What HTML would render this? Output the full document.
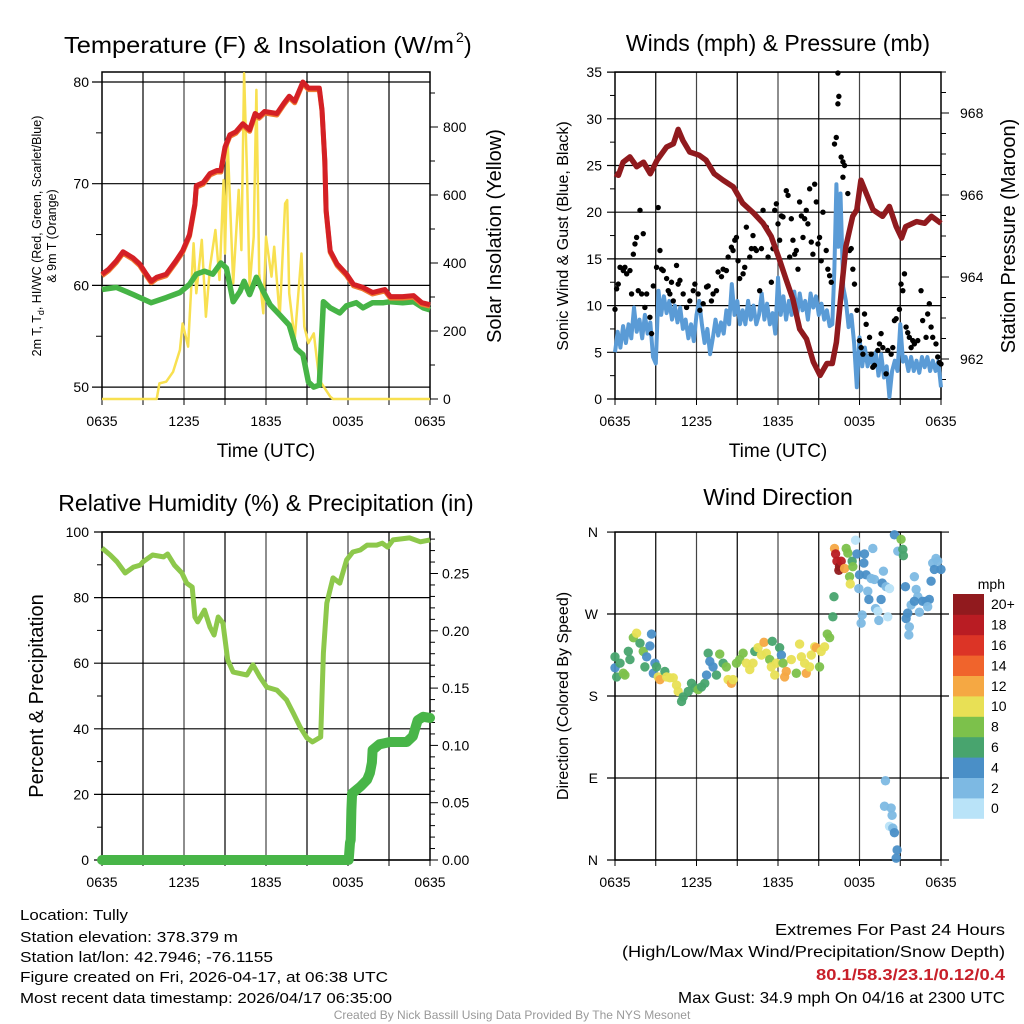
<!DOCTYPE html>
<html><head><meta charset="utf-8"><style>
html,body{margin:0;padding:0;background:#fff;}
svg{display:block;font-family:"Liberation Sans",sans-serif;}
</style></head><body>
<svg id="chart" width="1024" height="1024" viewBox="0 0 1024 1024" xmlns="http://www.w3.org/2000/svg">
<rect x="0" y="0" width="1024" height="1024" fill="#fff"/>
<g id="layer"></g>
<!-- titles -->
<text x="64" y="53" font-size="23" textLength="390" lengthAdjust="spacingAndGlyphs">Temperature (F) &amp; Insolation (W/m</text>
<text x="456" y="42" font-size="14">2</text>
<text x="464" y="53" font-size="23">)</text>
<text x="778" y="51" font-size="23" text-anchor="middle">Winds (mph) &amp; Pressure (mb)</text>
<text x="266" y="511" font-size="23" text-anchor="middle">Relative Humidity (%) &amp; Precipitation (in)</text>
<text x="778" y="505" font-size="23" text-anchor="middle">Wind Direction</text>
<!-- axis titles -->
<text x="266" y="457" font-size="19" text-anchor="middle">Time (UTC)</text>
<text x="778" y="457" font-size="19" text-anchor="middle">Time (UTC)</text>
<text transform="translate(41,236) rotate(-90)" font-size="12.5" text-anchor="middle">2m T, T<tspan font-size="9" dy="3">d</tspan><tspan dy="-3">, HI/WC (Red, Green, Scarlet/Blue)</tspan></text>
<text transform="translate(56,236) rotate(-90)" font-size="12.5" text-anchor="middle">&amp; 9m T (Orange)</text>
<text transform="translate(501,236) rotate(-90)" font-size="20" text-anchor="middle">Solar Insolation (Yellow)</text>
<text transform="translate(568,236) rotate(-90)" font-size="16" text-anchor="middle">Sonic Wind &amp; Gust (Blue, Black)</text>
<text transform="translate(1015,236) rotate(-90)" font-size="20" text-anchor="middle">Station Pressure (Maroon)</text>
<text transform="translate(43,696) rotate(-90)" font-size="20" text-anchor="middle">Percent &amp; Precipitation</text>
<text transform="translate(568,696) rotate(-90)" font-size="16" text-anchor="middle">Direction (Colored By Speed)</text>
<text x="1005" y="589" font-size="14" text-anchor="end">mph</text>
<!-- footer -->
<g font-size="15">
<text x="20" y="920" textLength="108" lengthAdjust="spacingAndGlyphs">Location: Tully</text>
<text x="20" y="942" textLength="218" lengthAdjust="spacingAndGlyphs">Station elevation: 378.379 m</text>
<text x="20" y="962" textLength="253" lengthAdjust="spacingAndGlyphs">Station lat/lon: 42.7946; -76.1155</text>
<text x="20" y="982" textLength="368" lengthAdjust="spacingAndGlyphs">Figure created on Fri, 2026-04-17, at 06:38 UTC</text>
<text x="20" y="1003" textLength="372" lengthAdjust="spacingAndGlyphs">Most recent data timestamp: 2026/04/17 06:35:00</text>
</g>
<g font-size="16">
<text x="775" y="935" textLength="230" lengthAdjust="spacingAndGlyphs">Extremes For Past 24 Hours</text>
<text x="622" y="957" textLength="383" lengthAdjust="spacingAndGlyphs">(High/Low/Max Wind/Precipitation/Snow Depth)</text>
<text x="816" y="980" textLength="189" lengthAdjust="spacingAndGlyphs" fill="#c8202a" font-weight="bold">80.1/58.3/23.1/0.12/0.4</text>
<text x="678" y="1003" textLength="327" lengthAdjust="spacingAndGlyphs">Max Gust: 34.9 mph On 04/16 at 2300 UTC</text>
</g>
<text x="512" y="1019" font-size="12" fill="#999" text-anchor="middle">Created By Nick Bassill Using Data Provided By The NYS Mesonet</text>
</svg>
<script>
// ---------- DATA ----------
const xTickLabels = ["0635","1235","1835","0035","0635"];
// Panel 1
const tempT = [0,0.5,1.05,1.54,2.27,2.76,3.25,3.61,4.0,4.7,5.4,5.9,6.4,6.8,6.9,7.4,7.9,8.4,8.7,9.0,9.35,9.8,10.3,10.8,11.2,11.5,11.9,12.8,13.3,13.7,14.1,14.7,15.1,15.9,16.1,16.3,16.4,16.7,17.2,17.9,18.4,19.1,19.8,20.7,21.1,22.0,22.8,23.4,24];
const tempV = [61.1,61.6,62.4,63.3,62.7,62.1,61.1,60.4,60.8,61.1,62.4,63.4,65.0,68.0,69.8,70.1,71.0,71.3,71.3,73.6,74.8,75.1,75.9,75.3,76.9,76.6,77.1,76.9,77.9,78.6,78.1,80.0,79.4,79.4,77.3,72.3,67.4,63.4,62.1,61.1,60.1,59.8,59.3,59.6,58.9,58.9,59.0,58.3,58.1];
const dewT = [0,1.05,2.3,3.6,4.7,5.7,6.4,6.9,7.5,8.1,8.7,9.1,9.6,10.1,10.4,10.8,11.3,11.8,12.3,13.0,13.7,14.2,14.7,15.1,15.5,15.9,16.2,16.7,17.4,17.9,18.6,19.1,19.8,20.6,21.1,22.0,22.8,23.5,24];
const dewV = [59.6,59.8,59.1,58.3,58.8,59.3,60.1,61.1,61.4,61.1,62.2,61.7,58.4,59.4,60.4,59.1,60.8,59.4,58.1,57.1,56.1,53.8,53.2,50.5,50.0,50.2,58.4,57.8,57.3,58.0,58.3,57.8,58.3,58.3,58.4,58.3,58.4,57.8,57.6];
const solarT = [0,4.0,4.2,4.7,5.2,5.7,5.9,6.3,6.7,6.9,7.3,7.6,7.9,8.3,8.6,8.9,9.0,9.2,9.6,10.0,10.2,10.4,10.6,10.8,11.1,11.3,11.5,11.8,12.0,12.4,12.6,13.0,13.4,13.55,13.7,14.1,14.6,14.8,15.1,15.5,15.9,16.7,16.9,24];
const solarV = [0,0,46,51,80,144,222,154,458,311,468,242,389,497,350,644,428,752,340,615,438,958,674,330,477,909,370,252,477,360,448,242,575,585,311,174,428,213,164,193,56,7,0,0];
const tempTicks = [50,60,70,80];
const solarTicks = [0,200,400,600,800];
// Panel 2
const pressT = [0,0.25,0.6,1.1,1.6,2.1,2.6,3.1,3.8,4.3,4.65,5.0,5.5,6.2,6.7,7.3,7.96,8.7,9.4,10.2,10.9,11.5,12.1,12.6,13.1,13.6,14.1,14.6,15.1,15.6,16.0,16.3,16.65,17.0,17.5,17.8,18.1,18.5,19.0,19.7,20.2,20.7,21.1,21.4,22.2,22.8,23.3,24];
const pressV = [966.52,966.48,966.8,966.93,966.69,966.8,966.52,966.85,967.17,967.25,967.6,967.33,967.05,966.97,966.85,966.52,966.36,966.2,965.8,965.56,965.31,964.99,964.43,963.94,963.46,962.73,962.49,961.93,961.6,961.89,961.89,962.41,963.62,964.75,965.48,965.64,966.36,966.04,965.64,965.48,965.72,965.23,964.95,965.23,965.35,965.31,965.48,965.31];
const windT = [0,0.2,0.4,0.6,0.8,1.0,1.2,1.4,1.6,1.8,2.0,2.2,2.4,2.6,2.8,3.0,3.2,3.4,3.6,3.8,4.0,4.2,4.4,4.6,4.8,5.0,5.2,5.4,5.6,5.8,6.0,6.2,6.4,6.6,6.8,7.0,7.2,7.4,7.6,7.8,8.0,8.2,8.4,8.6,8.8,9.0,9.2,9.4,9.6,9.8,10.0,10.2,10.4,10.6,10.8,11.0,11.2,11.4,11.6,11.8,12.0,12.2,12.4,12.6,12.8,13.0,13.2,13.4,13.6,13.8,14.0,14.2,14.4,14.6,14.8,15.0,15.2,15.4,15.6,15.8,16.0,16.15,16.3,16.45,16.6,16.8,17.0,17.2,17.4,17.6,17.8,18.0,18.2,18.4,18.6,18.8,19.0,19.2,19.4,19.6,19.8,20.0,20.2,20.4,20.6,20.8,21.0,21.2,21.4,21.6,21.8,22.0,22.2,22.4,22.6,22.8,23.0,23.2,23.4,23.6,23.8,24];
const windV = [5.0,7.2,5.5,7.8,6.0,8.0,6.5,9.8,7.2,8.5,6.5,9.0,7.0,8.2,4.5,3.8,11.6,9.0,11.0,9.2,10.5,8.5,10.0,8.2,9.8,7.5,8.5,6.5,8.0,6.2,9.0,10.5,8.0,6.0,7.5,4.8,6.5,8.5,6.8,8.2,7.0,9.5,8.0,12.3,9.0,10.5,8.0,9.5,8.0,10.5,8.5,10.0,8.0,9.0,11.3,8.5,10.2,8.0,9.2,7.0,13.0,9.0,11.0,8.5,10.5,9.0,11.5,8.8,11.3,9.5,10.5,8.5,11.3,9.8,11.0,9.0,10.2,8.5,9.5,7.8,8.0,14.0,23.0,16.3,22.0,12.0,10.5,7.7,9.0,6.0,1.25,6.6,3.5,5.5,3.5,4.8,3.4,5.0,2.5,4.8,2.3,3.5,0.2,3.0,4.1,3.0,8.0,4.0,4.5,3.0,4.5,3.0,4.1,2.8,4.5,3.4,4.5,3.0,4.1,3.0,4.0,1.25];
const gustT = [0,0.12,0.24,0.37,0.61,0.73,0.86,1.1,1.22,1.35,1.47,1.59,1.71,1.84,1.96,2.08,2.2,2.33,2.57,2.69,2.82,3.06,3.18,3.31,3.43,3.55,3.8,3.92,4.04,4.16,4.29,4.53,4.65,4.78,5.02,5.27,5.51,5.76,5.88,6.12,6.25,6.49,6.74,6.86,7.1,7.22,7.47,7.59,7.84,7.96,8.2,8.33,8.57,8.69,8.82,8.94,9.06,9.18,9.43,9.55,9.67,9.92,10.04,10.16,10.29,10.41,10.65,10.78,10.9,11.14,11.27,11.51,11.63,11.76,11.88,12.0,12.12,12.25,12.37,12.61,12.74,12.86,12.98,13.1,13.23,13.35,13.47,13.59,13.72,13.84,13.96,14.08,14.2,14.33,14.45,14.57,14.7,14.82,14.94,15.06,15.18,15.31,15.55,15.67,15.8,15.92,16.16,16.29,16.41,16.48,16.41,16.65,16.78,16.9,16.78,17.14,17.27,17.39,17.51,17.63,17.81,18.0,18.12,18.25,18.37,18.49,18.74,18.86,18.98,19.1,19.35,19.47,19.59,19.72,19.96,20.08,20.33,20.45,20.57,20.7,20.94,21.06,21.19,21.31,21.43,21.55,21.67,21.8,21.92,22.04,22.29,22.53,22.65,22.9,23.02,23.14,23.27,23.39,23.63,23.76,23.88,24];
const gustV = [9.6,11.8,12.3,14.1,13.75,14.1,13.4,13.75,11.25,15.5,16.6,17.3,11.6,20.2,11.25,17.7,9.8,11.25,8.75,7.0,12.1,14.1,20.5,15.9,13.9,13.75,12.9,11.6,11.25,12.5,10.5,14.3,12.3,12.7,11.25,9.8,10.5,11.6,12.3,11.25,9.5,10.2,12.0,12.1,10.5,11.25,11.6,13.6,13.1,13.9,13.75,15.2,16.25,15.9,17.0,17.3,14.8,12.9,13.4,14.1,18.4,15.2,16.1,17.5,16.1,15.9,11.6,16.1,20.2,18.4,15.2,12.5,16.1,20.2,20.9,18.75,17.0,19.6,19.5,22.3,21.8,15.2,19.3,17.0,15.5,15.9,13.9,21.1,19.6,17.3,19.3,20.2,18.75,22.5,16.8,15.5,23.0,21.1,16.6,17.3,14.8,20.0,15.9,13.9,13.2,12.5,27.3,28.0,31.6,32.4,34.9,25.9,25.4,25.0,23.75,22.0,15.9,16.1,13.9,12.3,9.5,6.25,5.5,4.8,9.1,8.0,6.6,4.8,3.4,3.6,5.2,5.9,7.0,5.5,2.7,5.2,4.8,5.5,8.4,8.6,9.6,12.3,11.6,13.4,7.7,7.1,6.6,5.5,6.25,5.9,6.25,11.6,8.4,6.6,9.1,10.2,7.7,6.6,5.9,4.5,3.9,3.75];
const windTicks = [0,5,10,15,20,25,30,35];
const pressTicks = [962,964,966,968];
// Panel 3
const rhT = [0,0.6,1.1,1.7,2.3,2.8,3.0,3.7,4.5,4.8,5.3,5.85,6.2,6.6,6.8,7.0,7.5,7.9,8.2,8.5,8.85,9.2,9.6,10.6,11.05,11.55,12.05,12.8,13.5,14.0,14.5,15.0,15.4,16.0,16.2,16.45,16.9,17.4,17.9,18.35,18.9,19.4,20.1,20.5,20.9,21.3,22.5,23.3,24];
const rhV = [95.1,93.0,90.9,87.5,89.3,89.9,90.9,93.0,92.4,93.3,89.9,87.5,84.4,83.2,74.1,72.6,76.2,71.0,68.6,74.1,72.3,61.0,57.3,56.4,59.5,55.8,52.7,51.8,48.8,44.8,40.5,37.2,36.0,37.5,63.1,78.3,86.0,84.4,91.5,93.9,94.5,96.0,96.0,96.6,95.4,97.6,98.2,97.0,97.6];
const precipT = [0,18.05,18.15,18.2,18.25,18.3,18.9,19.4,19.6,19.75,19.8,20.3,21.07,22.3,22.75,23.1,23.5,24];
const precipV = [0,0,0.015,0.0175,0.044,0.058,0.064,0.07,0.076,0.085,0.096,0.101,0.103,0.103,0.108,0.122,0.125,0.124];
const rhTicks = [0,20,40,60,80,100];
const precipTicks = ["0.00","0.05","0.10","0.15","0.20","0.25"];
// Panel 4
const dirT = [0,0,0.12,0.37,0.61,0.73,0.98,1.1,1.35,1.59,1.84,2.08,2.33,2.57,2.69,2.2,2.82,2.94,3.06,3.18,3.31,3.67,3.8,4.04,4.29,4.53,4.65,4.9,5.02,5.39,5.63,5.88,6.12,6.37,6.61,6.74,6.86,6.98,7.22,7.47,7.71,7.96,8.2,8.33,8.57,8.69,8.94,9.18,9.43,9.67,9.92,10.16,10.29,10.53,10.78,10.97,11.14,11.39,11.51,11.58,11.76,11.88,12.12,12.25,12.37,12.49,12.61,12.98,13.35,13.59,13.72,13.96,14.08,14.33,14.45,14.7,14.82,15.06,15.18,15.43,15.63,15.8,16.04,16.12,16.16,16.24,16.34,16.48,16.53,16.65,16.9,17.02,17.14,17.27,17.32,17.46,17.51,17.71,17.81,17.95,18.0,18.2,18.12,18.37,18.32,18.49,18.61,18.69,18.86,18.98,19.1,19.18,19.35,19.42,19.59,19.67,19.76,19.96,20.08,20.21,20.57,20.82,21.06,21.19,21.23,21.38,21.43,21.55,21.67,21.63,21.8,22.04,22.17,22.29,22.04,22.41,22.65,22.9,23.14,23.02,23.27,23.39,23.51,23.63,24,23.76,19.91,19.84,20.33,20.4,20.21,20.45,20.57,20.77,20.7];
const dirV = [223,211,201,216,205,203,229,220,244,249,238,229,223,235,248,212,205,216,212,201,198,207,201,200,200,192,185,174,179,185,194,189,187,190,194,203,227,218,212,203,226,216,212,198,194,198,216,220,227,216,209,216,229,233,225,239,227,220,212,240,203,216,233,225,216,201,207,220,205,237,223,216,205,212,225,234,233,212,229,234,248,244,267,289,342,336,328,318,322,328,320,342,337,311,303,328,322,351,336,298,313,269,260,336,326,313,295,286,309,342,308,276,273,263,286,304,317,300,267,298,357,339,352,341,334,300,265,271,256,247,280,311,297,289,284,272,284,284,286,278,306,326,319,331,319,328,87,59,57,49,37,35,30,11,2];
const dirSpd = [6,4,6,6,8,8,6,6,8,10,6,8,4,4,4,6,4,4,6,10,12,6,10,10,10,10,10,6,6,6,6,6,8,6,6,4,6,4,4,6,8,6,8,10,12,10,8,8,8,10,10,10,6,10,10,12,10,8,10,6,10,10,6,4,8,12,12,10,8,10,10,10,12,10,10,10,12,8,10,10,8,8,6,6,12,17,17,20,20,17,12,8,8,8,10,6,8,0,4,2,4,2,2,4,4,4,2,4,2,2,2,2,0,2,4,4,2,2,0,0,4,2,8,6,6,4,4,4,2,2,2,2,2,2,4,2,4,4,4,2,4,2,4,2,4,2,2,2,2,2,0,2,4,4,4];
const dirLabels = ["N","E","S","W","N"];
const cbLabels = ["0","2","4","6","8","10","12","14","16","18","20+"];
const cbColors = ["#b9e3f8","#7db9e3","#4a8fc7","#48a46e","#7cc14b","#e8e055","#f5a843","#f0642c","#dc3426","#b91c23","#911a1e"];

// ---------- HELPERS ----------
const NS = "http://www.w3.org/2000/svg";
const layer = document.getElementById('layer');
function mk(tag, attrs, name, parent){
  const el = document.createElementNS(NS, tag);
  for (const k in attrs) el.setAttribute(k, attrs[k]);
  
  
  (parent || layer).appendChild(el);
  return el;
}
function txt(x, y, s, anchor, size, name, extra){
  const el = mk('text', Object.assign({x:x, y:y, 'font-size':size, 'text-anchor':anchor}, extra||{}), name);
  el.textContent = s;
  return el;
}
function pathD(ts, vs, xf, yf){
  let d = '';
  for (let i=0;i<ts.length;i++) d += (i?'L':'M') + xf(ts[i]).toFixed(1) + ',' + yf(vs[i]).toFixed(1);
  return d;
}
function speedColor(v){ let i = Math.floor((v+1)/2); if(i>10) i=10; if(i<0) i=0; return cbColors[i]; }

const P1 = {x0:102, x1:430, y0:72, y1:399};
const P2 = {x0:615, x1:941, y0:72, y1:399};
const P3 = {x0:102, x1:430, y0:532, y1:860};
const P4 = {x0:615, x1:941, y0:532, y1:860};
const xs = P => t => P.x0 + t/24*(P.x1-P.x0);
const x1f = xs(P1), x2f = xs(P2), x3f = xs(P3), x4f = xs(P4);
const yTemp = v => 82 + (80-v)*10.17;
const ySolar = v => 399 - v*0.34;
const yWind = v => 399 - v*9.34;
const yPress = v => 195 - (v-966)*41;
const yRH = v => 860 - v*3.28;
const yPrecip = v => 860 - v*1146;
const yDir = v => 860 - v*0.911;

function frame(P, tag){
  for (let h=3; h<24; h+=3){
    mk('line',{x1:xs(P)(h),x2:xs(P)(h),y1:P.y0,y2:P.y1,stroke:h%6===0?'#444':'#000','stroke-width':1.2},tag+'-vgrid');
  }
  mk('rect',{x:P.x0,y:P.y0,width:P.x1-P.x0,height:P.y1-P.y0,fill:'none',stroke:'#000','stroke-width':1.5},tag+'-plot-frame');
  for (let h=0; h<=24; h+=3){
    mk('line',{x1:xs(P)(h),x2:xs(P)(h),y1:P.y1,y2:P.y1+6,stroke:'#000','stroke-width':1},tag+'-x-tick');
  }
  for (let i=0;i<xTickLabels.length;i++){
    txt(xs(P)(i*6), P.y1+27, xTickLabels[i], 'middle', 14, tag+'-x-tick-label');
  }
}

// ---------- PANEL 1 ----------
frame(P1,'temp');
for (const v of tempTicks){
  mk('line',{x1:P1.x0-10,x2:P1.x1,y1:yTemp(v),y2:yTemp(v),stroke:'#000','stroke-width':1.2},'temp-hgrid');
  txt(P1.x0-13, yTemp(v)+5, String(v), 'end', 14, 'temp-y-tick-label');
  if (yTemp(v+5) > P1.y0) mk('line',{x1:P1.x0-6,x2:P1.x0,y1:yTemp(v+5),y2:yTemp(v+5),stroke:'#000'},'temp-y-minor-tick');
}
for (let v=0; v<=900; v+=100){
  mk('line',{x1:P1.x1,x2:P1.x1+(v%200===0?8:5),y1:ySolar(v),y2:ySolar(v),stroke:'#000'},'solar-y-tick');
}
for (const v of solarTicks) txt(P1.x1+13, ySolar(v)+5, String(v), 'start', 14, 'solar-y-tick-label');
mk('path',{d:pathD(solarT,solarV,x1f,ySolar),fill:'none',stroke:'#f8e050','stroke-width':2.5,'stroke-linejoin':'round'},'solar-line');
mk('path',{d:pathD(dewT,dewV,x1f,yTemp),fill:'none',stroke:'#46b446','stroke-width':5.5,'stroke-linejoin':'round'},'dewpoint-line');
mk('path',{d:pathD(tempT,tempV,x1f,yTemp),fill:'none',stroke:'#f07a30','stroke-width':5,'stroke-linejoin':'round',transform:'translate(0,1.5)'},'temp-9m-line');
mk('path',{d:pathD(tempT,tempV,x1f,yTemp),fill:'none',stroke:'#d42025','stroke-width':5,'stroke-linejoin':'round'},'temp-2m-line');

// ---------- PANEL 2 ----------
frame(P2,'wind');
for (const v of windTicks){
  mk('line',{x1:P2.x0-8,x2:P2.x1,y1:yWind(v),y2:yWind(v),stroke:'#000','stroke-width':1.2},'wind-hgrid');
  txt(P2.x0-13, yWind(v)+5, String(v), 'end', 14, 'wind-y-tick-label');
  if (v<35) mk('line',{x1:P2.x0-5,x2:P2.x0,y1:yWind(v+2.5),y2:yWind(v+2.5),stroke:'#000'},'wind-y-minor-tick');
}
for (let v=961.5; v<=969; v+=0.5){
  if (yPress(v) < P2.y0 || yPress(v) > P2.y1) continue;
  mk('line',{x1:P2.x1,x2:P2.x1+(v%2===0?8:5),y1:yPress(v),y2:yPress(v),stroke:'#000'},'pressure-y-tick');
}
for (const v of pressTicks) txt(P2.x1+19, yPress(v)+5, String(v), 'start', 14, 'pressure-y-tick-label');
mk('path',{d:pathD(windT,windV,x2f,yWind),fill:'none',stroke:'#5a9bd6','stroke-width':4,'stroke-linejoin':'round'},'sonic-wind-line');
for (let i=0;i<gustT.length;i++){
  mk('circle',{cx:x2f(gustT[i]),cy:yWind(gustV[i]),r:2.7,fill:'#000'},'gust-point');
}
mk('path',{d:pathD(pressT,pressV,x2f,yPress),fill:'none',stroke:'#901a1e','stroke-width':5.5,'stroke-linejoin':'round'},'pressure-line');

// ---------- PANEL 3 ----------
frame(P3,'rh');
for (const v of rhTicks){
  mk('line',{x1:P3.x0-8,x2:P3.x1,y1:yRH(v),y2:yRH(v),stroke:'#000','stroke-width':1.2},'rh-hgrid');
  txt(P3.x0-13, yRH(v)+5, String(v), 'end', 14, 'rh-y-tick-label');
  if (v<100) mk('line',{x1:P3.x0-5,x2:P3.x0,y1:yRH(v+10),y2:yRH(v+10),stroke:'#000'},'rh-y-minor-tick');
}
for (let i=0;i<=28;i++){
  const v = i/100;
  mk('line',{x1:P3.x1,x2:P3.x1+(i%5===0?8:5),y1:yPrecip(v),y2:yPrecip(v),stroke:'#000'},'precip-y-tick');
}
for (const s of precipTicks) txt(P3.x1+12, yPrecip(parseFloat(s))+5, s, 'start', 14, 'precip-y-tick-label');
mk('path',{d:pathD(rhT,rhV,x3f,yRH),fill:'none',stroke:'#8dc84b','stroke-width':5,'stroke-linejoin':'round'},'rh-line');
mk('path',{d:pathD(precipT,precipV,x3f,yPrecip),fill:'none',stroke:'#48b548','stroke-width':10,'stroke-linejoin':'round','stroke-linecap':'round'},'precip-line');

// ---------- PANEL 4 ----------
frame(P4,'dir');
for (let i=0;i<dirLabels.length;i++){
  const v = i*90;
  mk('line',{x1:P4.x0-8,x2:P4.x1+8,y1:yDir(v),y2:yDir(v),stroke:'#000','stroke-width':1.2},'dir-hgrid');
  txt(P4.x0-17, yDir(v)+5, dirLabels[i], 'end', 14, 'dir-y-tick-label');
}
for (let i=0;i<dirT.length;i++){
  mk('circle',{cx:x4f(dirT[i]),cy:yDir(dirV[i]),r:4.7,fill:speedColor(dirSpd[i]),'fill-opacity':0.95},'wind-direction-point');
}
const cbTop = 594, cbH = 20.4;
for (let i=0;i<cbColors.length;i++){
  const y = cbTop + (cbColors.length-1-i)*cbH;
  mk('rect',{x:953,y:y,width:31,height:cbH+0.4,fill:cbColors[i]},'colorbar-box');
  txt(991, y+cbH/2+5, cbLabels[i], 'start', 14, 'colorbar-label');
}
</script>
</body></html>
